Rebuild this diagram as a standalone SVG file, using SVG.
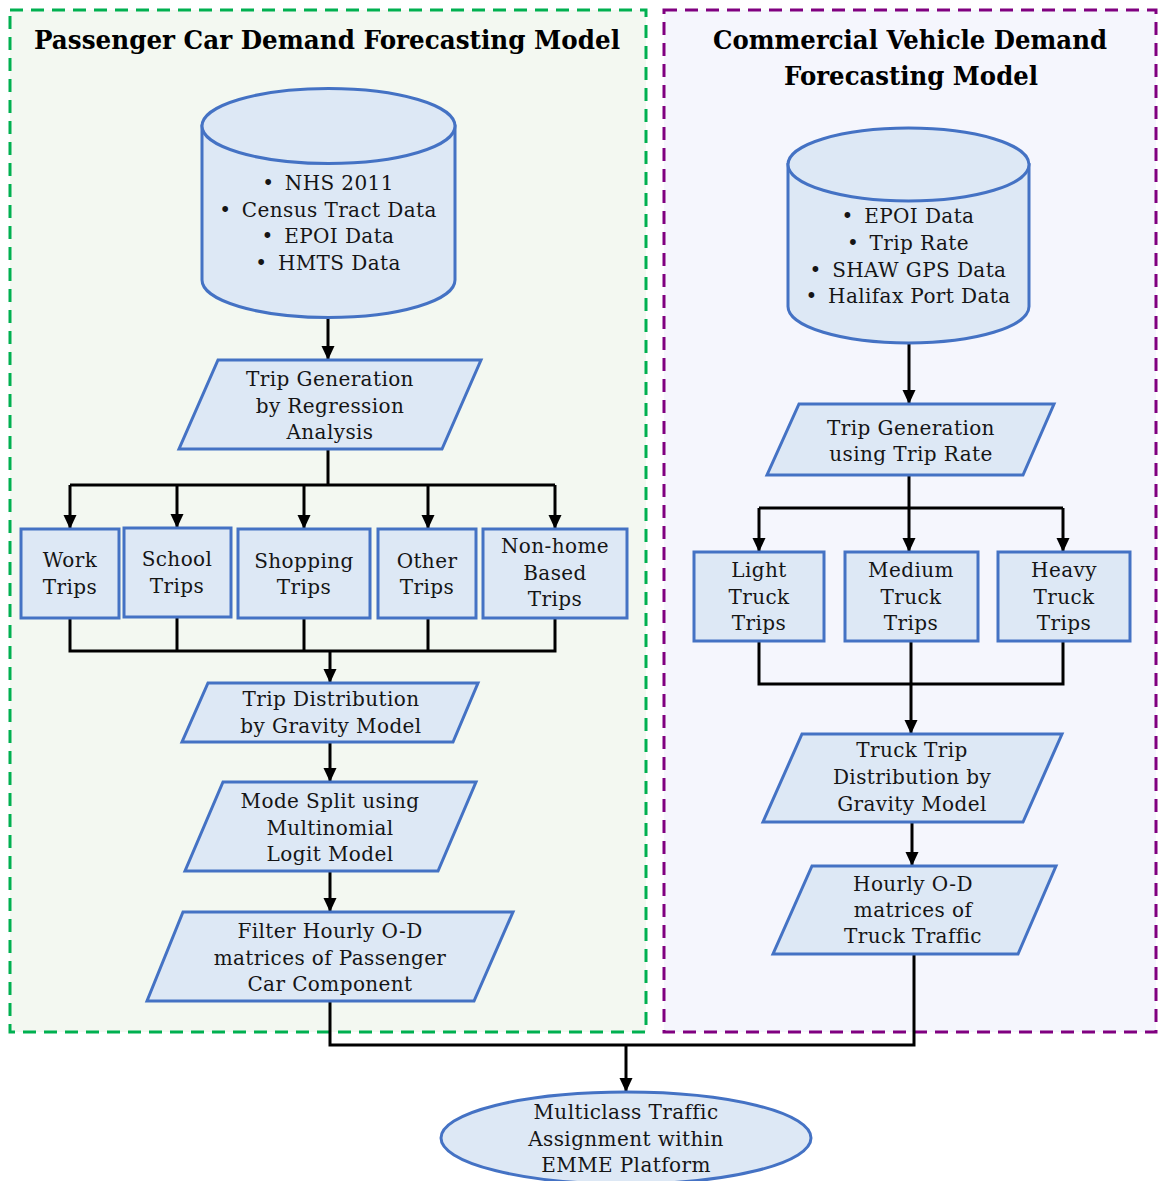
<svg xmlns="http://www.w3.org/2000/svg" width="1158" height="1181" viewBox="0 0 1158 1181">
<defs>
<marker id="ah" markerUnits="userSpaceOnUse" markerWidth="14" markerHeight="14" refX="14" refY="6.5" orient="auto">
<path d="M0,0 L14,6.5 L0,13 z" fill="#000"/>
</marker>
<style>
.panelL{fill:#f3f8f1;stroke:#00b050;stroke-width:3;stroke-dasharray:13 8}
.panelR{fill:#f5f6fd;stroke:#800080;stroke-width:3;stroke-dasharray:13 8}
.node{fill:#dde8f5;stroke:#4472c4;stroke-width:3}
.t{font-family:"DejaVu Serif","Liberation Serif",serif;font-size:20px;letter-spacing:0.4px;fill:#151515;text-anchor:middle}
.title{font-family:"DejaVu Serif","Liberation Serif",serif;font-size:26px;font-weight:bold;fill:#000;text-anchor:middle}
.c{fill:none;stroke:#000;stroke-width:3}
.ca{fill:none;stroke:#000;stroke-width:3;marker-end:url(#ah)}
</style>
</defs>
<rect width="1158" height="1181" fill="#ffffff"/>
<g id="panel-passenger">
<rect class="panelL" x="10" y="10" width="636" height="1022"/>
<text class="title" x="327" y="49" textLength="586" lengthAdjust="spacingAndGlyphs">Passenger Car Demand Forecasting Model</text>
</g>
<g id="panel-commercial">
<rect class="panelR" x="664" y="10" width="492" height="1022"/>
<text class="title" x="910" y="49" textLength="394" lengthAdjust="spacingAndGlyphs">Commercial Vehicle Demand</text>
<text class="title" x="911" y="85" textLength="254" lengthAdjust="spacingAndGlyphs">Forecasting Model</text>
</g>
<g id="connectors">
<line class="ca" x1="328" y1="318" x2="328" y2="360"/>
<polyline class="c" points="328,449 328,485"/>
<line class="c" x1="70" y1="485" x2="555" y2="485"/>
<line class="ca" x1="70" y1="485" x2="70" y2="529"/>
<line class="ca" x1="177" y1="485" x2="177" y2="528"/>
<line class="ca" x1="304" y1="485" x2="304" y2="529"/>
<line class="ca" x1="428" y1="485" x2="428" y2="529"/>
<line class="ca" x1="555" y1="485" x2="555" y2="529"/>
<polyline class="c" points="70,618 70,651 555,651 555,618"/>
<line class="c" x1="177" y1="617" x2="177" y2="651"/>
<line class="c" x1="304" y1="618" x2="304" y2="651"/>
<line class="c" x1="428" y1="618" x2="428" y2="651"/>
<line class="ca" x1="330" y1="651" x2="330" y2="683"/>
<line class="ca" x1="330" y1="742" x2="330" y2="782"/>
<line class="ca" x1="330" y1="871" x2="330" y2="912"/>
<line class="ca" x1="909" y1="343" x2="909" y2="404"/>
<line class="c" x1="909" y1="475" x2="909" y2="508"/>
<line class="c" x1="759" y1="508" x2="1063" y2="508"/>
<line class="ca" x1="759" y1="508" x2="759" y2="552"/>
<line class="ca" x1="909" y1="508" x2="909" y2="552"/>
<line class="ca" x1="1063" y1="508" x2="1063" y2="552"/>
<polyline class="c" points="759,641 759,684 1063,684 1063,641"/>
<line class="ca" x1="911" y1="641" x2="911" y2="734"/>
<line class="ca" x1="912" y1="822" x2="912" y2="866"/>
<polyline class="c" points="330,1001 330,1045 914,1045 914,954"/>
<line class="ca" x1="626" y1="1045" x2="626" y2="1092"/>
</g>
<g id="data-passenger">
<path class="node" d="M202,126 L202,280 A126.5,37.5 0 0 0 455,280 L455,126 Z"/>
<ellipse class="node" cx="328.5" cy="126" rx="126.5" ry="37.5"/>
<text class="t" x="328" y="190">•&#8194;NHS 2011</text>
<text class="t" x="328" y="217">•&#8194;Census Tract Data</text>
<text class="t" x="328" y="243">•&#8194;EPOI Data</text>
<text class="t" x="328" y="270">•&#8194;HMTS Data</text>
</g>
<g id="trip-generation-regression">
<polygon class="node" points="218,360 481,360 442,449 179,449"/>
<text class="t" x="330" y="386">Trip Generation</text>
<text class="t" x="330" y="413">by Regression</text>
<text class="t" x="330" y="439">Analysis</text>
</g>
<g id="work-trips">
<rect class="node" x="21" y="529" width="98" height="89"/>
<text class="t" x="70" y="567">Work</text>
<text class="t" x="70" y="594">Trips</text>
</g>
<g id="school-trips">
<rect class="node" x="124" y="528" width="107" height="89"/>
<text class="t" x="177" y="566">School</text>
<text class="t" x="177" y="593">Trips</text>
</g>
<g id="shopping-trips">
<rect class="node" x="238" y="529" width="132" height="89"/>
<text class="t" x="304" y="568">Shopping</text>
<text class="t" x="304" y="594">Trips</text>
</g>
<g id="other-trips">
<rect class="node" x="378" y="529" width="98" height="89"/>
<text class="t" x="427" y="568">Other</text>
<text class="t" x="427" y="594">Trips</text>
</g>
<g id="nonhome-trips">
<rect class="node" x="483" y="529" width="144" height="89"/>
<text class="t" x="555" y="553">Non-home</text>
<text class="t" x="555" y="580">Based</text>
<text class="t" x="555" y="606">Trips</text>
</g>
<g id="trip-distribution">
<polygon class="node" points="208,683 478,683 453,742 182,742"/>
<text class="t" x="331" y="706">Trip Distribution</text>
<text class="t" x="331" y="733">by Gravity Model</text>
</g>
<g id="mode-split">
<polygon class="node" points="223,782 476,782 438,871 185,871"/>
<text class="t" x="330" y="808">Mode Split using</text>
<text class="t" x="330" y="835">Multinomial</text>
<text class="t" x="330" y="861">Logit Model</text>
</g>
<g id="filter-od">
<polygon class="node" points="183,912 513,912 474,1001 147,1001"/>
<text class="t" x="330" y="938">Filter Hourly O-D</text>
<text class="t" x="330" y="965">matrices of Passenger</text>
<text class="t" x="330" y="991">Car Component</text>
</g>
<g id="data-commercial">
<path class="node" d="M788,164.5 L788,306.5 A120.5,36.5 0 0 0 1029,306.5 L1029,164.5 Z"/>
<ellipse class="node" cx="908.5" cy="164.5" rx="120.5" ry="36.5"/>
<text class="t" x="908" y="223">•&#8194;EPOI Data</text>
<text class="t" x="908" y="250">•&#8194;Trip Rate</text>
<text class="t" x="908" y="277">•&#8194;SHAW GPS Data</text>
<text class="t" x="908" y="303">•&#8194;Halifax Port Data</text>
</g>
<g id="trip-generation-rate">
<polygon class="node" points="799,404 1054,404 1023,475 767,475"/>
<text class="t" x="911" y="435">Trip Generation</text>
<text class="t" x="911" y="461">using Trip Rate</text>
</g>
<g id="light-truck">
<rect class="node" x="694" y="552" width="130" height="89"/>
<text class="t" x="759" y="577">Light</text>
<text class="t" x="759" y="604">Truck</text>
<text class="t" x="759" y="630">Trips</text>
</g>
<g id="medium-truck">
<rect class="node" x="845" y="552" width="133" height="89"/>
<text class="t" x="911" y="577">Medium</text>
<text class="t" x="911" y="604">Truck</text>
<text class="t" x="911" y="630">Trips</text>
</g>
<g id="heavy-truck">
<rect class="node" x="998" y="552" width="132" height="89"/>
<text class="t" x="1064" y="577">Heavy</text>
<text class="t" x="1064" y="604">Truck</text>
<text class="t" x="1064" y="630">Trips</text>
</g>
<g id="truck-distribution">
<polygon class="node" points="802,734 1062,734 1023,822 763,822"/>
<text class="t" x="912" y="757">Truck Trip</text>
<text class="t" x="912" y="784">Distribution by</text>
<text class="t" x="912" y="811">Gravity Model</text>
</g>
<g id="hourly-od-truck">
<polygon class="node" points="812,866 1056,866 1018,954 773,954"/>
<text class="t" x="913" y="891">Hourly O-D</text>
<text class="t" x="913" y="917">matrices of</text>
<text class="t" x="913" y="943">Truck Traffic</text>
</g>
<g id="multiclass-assignment">
<ellipse class="node" cx="626" cy="1138" rx="185" ry="46"/>
<text class="t" x="626" y="1119">Multiclass Traffic</text>
<text class="t" x="626" y="1146">Assignment within</text>
<text class="t" x="626" y="1172">EMME Platform</text>
</g>
</svg>
